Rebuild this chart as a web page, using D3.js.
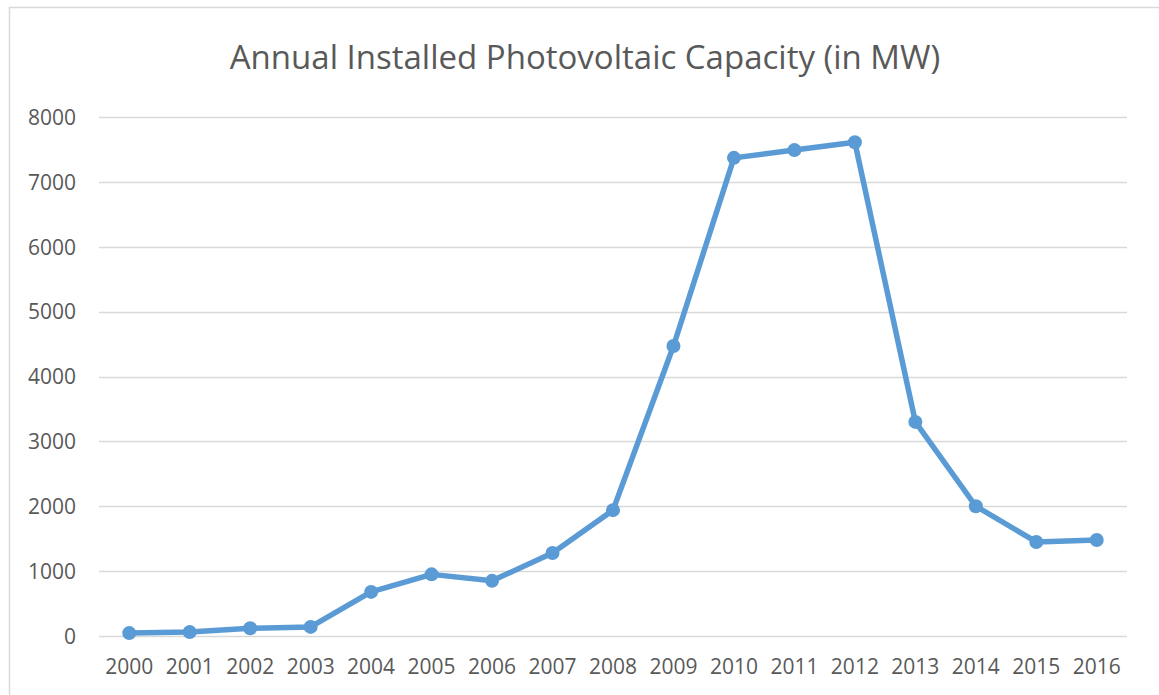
<!DOCTYPE html>
<html>
<head>
<meta charset="utf-8">
<script src="https://cdn.jsdelivr.net/npm/d3@7"></script>
<style>
  html, body { margin: 0; padding: 0; background: #fff; }
  svg { display: block; }
  text { font-family: "Open Sans", "Noto Sans", sans-serif; fill: #595959; }
</style>
</head>
<body>
<svg id="chart" width="1159" height="695"></svg>
<script>
const years = ["2000","2001","2002","2003","2004","2005","2006","2007","2008","2009","2010","2011","2012","2013","2014","2015","2016"];
const capacity = [45, 60, 120, 140, 680, 950, 850, 1280, 1940, 4470, 7370, 7490, 7610, 3300, 2000, 1450, 1480];
const yTicks = [0, 1000, 2000, 3000, 4000, 5000, 6000, 7000, 8000];
const title = "Annual Installed Photovoltaic Capacity (in MW)";

const svg = d3.select("#chart");
const m = { left: 99, right: 1127, top: 117, bottom: 636 };

svg.append("rect")
  .attr("x", 9.5).attr("y", 7.5)
  .attr("width", 1400).attr("height", 900)
  .attr("fill", "#fff").attr("stroke", "#d9d9d9").attr("stroke-width", 1.5);

const x = d3.scaleBand().domain(years).range([m.left, m.right]);
const y = d3.scaleLinear().domain([0, 8000]).range([m.bottom, m.top]);

// gridlines
svg.append("g")
  .selectAll("line").data(yTicks).join("line")
  .attr("x1", m.left).attr("x2", m.right)
  .attr("y1", d => Math.round(y(d)) + 0.5).attr("y2", d => Math.round(y(d)) + 0.5)
  .attr("stroke", "#d9d9d9").attr("stroke-width", 1.5);

// y axis
const yAxis = d3.axisLeft(y).tickValues(yTicks).tickSize(0).tickPadding(0).tickFormat(d3.format("d"));
const gy = svg.append("g").attr("transform", `translate(${76},0)`).call(yAxis);
gy.select(".domain").remove();
gy.selectAll("text").attr("font-size", 21).attr("fill", "#595959")
  .style("font-family", '"Open Sans", sans-serif').attr("dy", "0.35em");

// x axis
const xAxis = d3.axisBottom(x).tickSize(0).tickPadding(0);
const gx = svg.append("g").attr("transform", `translate(0,${m.bottom})`).call(xAxis);
gx.select(".domain").remove();
gx.selectAll("text").attr("font-size", 21).attr("fill", "#595959")
  .style("font-family", '"Open Sans", sans-serif').attr("y", 38).attr("dy", 0);

// line
const cx = d => x(d) + x.bandwidth() / 2;
const data = years.map((yr, i) => ({ yr, v: capacity[i] }));
svg.append("path").datum(data)
  .attr("fill", "none").attr("stroke", "#5B9BD5").attr("stroke-width", 5.5)
  .attr("stroke-linejoin", "round").attr("stroke-linecap", "round")
  .attr("d", d3.line().x(d => cx(d.yr)).y(d => y(d.v)));

svg.append("g").selectAll("circle").data(data).join("circle")
  .attr("cx", d => cx(d.yr)).attr("cy", d => y(d.v)).attr("r", 7)
  .attr("fill", "#5B9BD5");

// title
svg.append("text").attr("x", 585).attr("y", 69)
  .attr("text-anchor", "middle").attr("font-size", 33)
  .style("font-family", '"Open Sans", sans-serif').attr("fill", "#595959")
  .text(title);
</script>
</body>
</html>
